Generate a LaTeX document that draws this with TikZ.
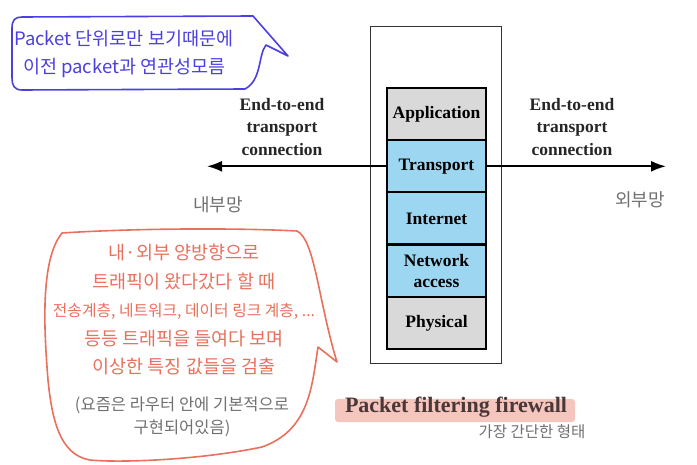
\documentclass[tikz,border=0pt]{standalone}
\usepackage{fontspec}
\setmainfont{Liberation Serif}
\newfontfamily\handfont{Noto Sans CJK KR}
\usetikzlibrary{arrows.meta,positioning}

\definecolor{penblue}{HTML}{4B3FE0}
\definecolor{pensalmon}{HTML}{E8705C}
\definecolor{pengray}{HTML}{707070}
\definecolor{hlpink}{HTML}{F5C6BE}
\definecolor{layergray}{HTML}{D9D9D9}
\definecolor{layerblue}{HTML}{9DD6F0}
\definecolor{titlebrown}{HTML}{4A3838}

\begin{document}
\begin{tikzpicture}[x=1pt, y=-1pt, >={Latex[length=15pt,width=11pt]},
	every node/.style={inner sep=0pt},
	layer/.style={draw, line width=2.2pt, minimum width=99pt, minimum height=52.2pt, outer sep=0pt, align=center, font=\fontsize{17.5}{21}\selectfont\bfseries},
	conn/.style={->, line width=1.8pt},
	caption/.style={align=center, text=black!85, font=\fontsize{17.5}{22.5}\selectfont\bfseries},
	handnote/.style={align=center, font=\handfont\fontsize{18}{28}\selectfont}]
	\useasboundingbox (0,0) rectangle (697,465);
	% firewall box and protocol stack
	\node[draw=black!80, line width=1pt, minimum width=131pt, minimum height=337pt] (fw) at (435.5,195.5) {};
	\node[layer, fill=layergray] (app) at (436.5,114.1) {Application};
	\node[layer, fill=layerblue, below=0pt of app] (trans) {Transport};
	\node[layer, fill=layerblue, below=0pt of trans] (inet) {Internet};
	\node[layer, fill=layerblue, below=0pt of inet] (netacc) {Network\\access};
	\node[layer, fill=layergray, below=0pt of netacc] (phys) {Physical};
	% connections
	\coordinate[left=180pt of trans.west] (lend);
	\coordinate[right=180pt of trans.east] (rend);
	\draw[conn] (trans.west) -- (lend);
	\draw[conn] (trans.east) -- (rend);
	\node[caption] (lcap) at (282,127) {End-to-end\\transport\\connection};
	\node[caption] (rcap) at (572,127) {End-to-end\\transport\\connection};
	\node[handnote, text=pengray] (inner) at (218,205) {내부망};
	\node[handnote, text=pengray] (outer) at (640,200) {외부망};
	% title
	\fill[hlpink, rounded corners=3pt] (335,399) rectangle (575,422);
	\node[anchor=base, text=titlebrown, font=\fontsize{22}{26}\selectfont\bfseries] (title) at (456,413) {Packet filtering firewall};
	\node[handnote, text=pengray, font=\handfont\fontsize{15.5}{18}\selectfont] (simple) at (532,432) {가장 간단한 형태};
	% blue note
	\draw[penblue, line width=1.6pt, line join=round] (22,17) -- (253,16) -- (288,56) -- (266,45)
		.. controls (258,55) and (262,80) .. (245,89) -- (22,90)
		.. controls (14,90) and (12,85) .. (12,78) -- (12,28)
		.. controls (12,20) and (15,17) .. (22,17) -- cycle;
	\node[handnote, align=left, anchor=west, text=penblue, font=\handfont\fontsize{18.5}{28}\selectfont] (bluenote) at (14,54) {Packet 단위로만 보기때문에\\\hspace*{9pt}이전 packet과 연관성모름};
	% salmon note
	\draw[pensalmon, line width=1.6pt, line join=round] (62,233)
		.. controls (140,228) and (240,228) .. (297,231)
		.. controls (315,240) and (318,300) .. (337,362) -- (318,347)
		.. controls (312,385) and (310,430) .. (262,447)
		.. controls (200,460) and (120,463) .. (90,460)
		.. controls (60,455) and (52,420) .. (48,380)
		.. controls (44,330) and (40,260) .. (62,233) -- cycle;
	\node[handnote, text=pensalmon, font=\handfont\fontsize{18.5}{28.5}\selectfont] (saltnote) at (184,310) {내·외부 양방향으로\\트래픽이 왔다갔다 할 때\\{\fontsize{15.8}{28.5}\selectfont 전송계층, 네트워크, 데이터 링크 계층, ...}\\등등 트래픽을 들여다 보며\\이상한 특징 값들을 검출};
	\node[handnote, text=pengray, font=\handfont\fontsize{16.5}{23}\selectfont] (graynote) at (182,416.5) {(요즘은 라우터 안에 기본적으로\\구현되어있음)};
\end{tikzpicture}
\end{document}
